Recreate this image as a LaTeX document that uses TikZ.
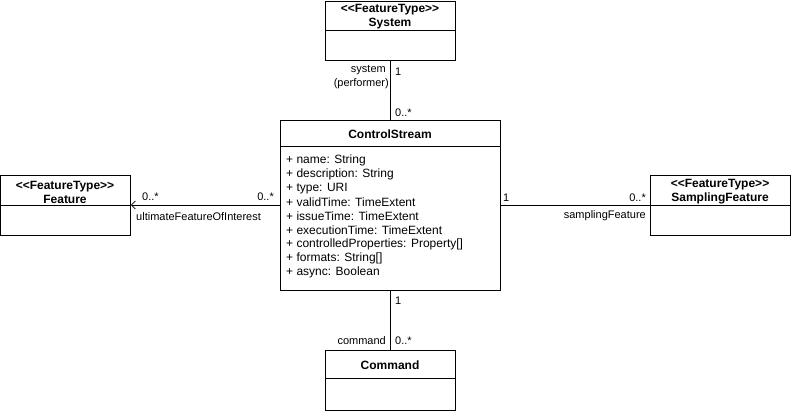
\documentclass[tikz,border=0pt]{standalone}
\usepackage{fontspec}
\setmainfont{Liberation Sans}[Ligatures=TeXOff]
\usetikzlibrary{arrows.meta}
\begin{document}
\begin{tikzpicture}[x=1pt,y=-1pt,
  box/.style={draw,line width=0.8pt,fill=white,inner sep=0pt,anchor=north west},
  hdr/.style={font=\fontsize{12}{14}\selectfont\bfseries,align=center,inner sep=0pt,yshift=-1.5pt},
  attr/.style={font=\fontsize{12}{14}\selectfont,anchor=west,inner sep=0pt,yshift=-1.5pt},
  lbl/.style={font=\fontsize{11}{14}\selectfont,inner sep=0pt,yshift=-1pt},
  conn/.style={line width=0.8pt}]
\useasboundingbox (0,0) rectangle (791,411);
% System
\node[box,minimum width=130pt,minimum height=59pt] (sys) at (325,1) {};
\draw[line width=0.8pt] (325,30) -- (455,30);
\node[hdr] (syst) at (390,15.5) {{<}{<}FeatureType{>}{>}\\System};
% ControlStream
\node[box,minimum width=220pt,minimum height=170pt] (cs) at (280,120) {};
\draw[line width=0.8pt] (280,146) -- (500,146);
\node[hdr] (cst) at (390,133) {ControlStream};
\node[attr] (a1) at (286,159) {+ name: String};
\node[attr] (a2) at (286,173) {+ description: String};
\node[attr] (a3) at (286,187) {+ type: URI};
\node[attr] (a4) at (286,201) {+ validTime: TimeExtent};
\node[attr] (a5) at (286,215) {+ issueTime: TimeExtent};
\node[attr] (a6) at (286,229) {+ executionTime: TimeExtent};
\node[attr] (a7) at (286,243) {+ controlledProperties: Property[]};
\node[attr] (a8) at (286,257) {+ formats: String[]};
\node[attr] (a9) at (286,271) {+ async: Boolean};
% Feature
\node[box,minimum width=130pt,minimum height=60pt] (feat) at (0,175) {};
\draw[line width=0.8pt] (0,205) -- (130,205);
\node[hdr] (featt) at (65,190.5) {{<}{<}FeatureType{>}{>}\\Feature};
% SamplingFeature
\node[box,minimum width=140pt,minimum height=60pt] (sf) at (650,175) {};
\draw[line width=0.8pt] (650,205) -- (790,205);
\node[hdr] (sft) at (720,190.5) {{<}{<}FeatureType{>}{>}\\SamplingFeature};
% Command
\node[box,minimum width=130pt,minimum height=60pt] (cmd) at (325,350) {};
\draw[line width=0.8pt] (325,378) -- (455,378);
\node[hdr] (cmdt) at (390,364) {Command};
% connectors
\draw[conn] (sys.south) -- (cs.north);
\draw[conn,-{Straight Barb[length=4pt,width=8pt,line width=0.8pt]}] (cs.west |- 0,205) -- (feat.east |- 0,205);
\draw[conn] (cs.east |- 0,205) -- (sf.west |- 0,205);
\draw[conn] (cs.south) -- (cmd.north);
% labels
\node[lbl,anchor=east] (l1) at (386,69) {system};
\node[lbl,anchor=east] (l2) at (389,83) {(performer)};
\node[lbl,anchor=west] (l3) at (395,71) {1};
\node[lbl,anchor=west] (l4) at (395,112) {0..*};
\node[lbl,anchor=west] (l5) at (142,196) {0..*};
\node[lbl,anchor=east] (l6) at (274,196) {0..*};
\node[lbl,anchor=west] (l7) at (136,216) {ultimateFeatureOfInterest};
\node[lbl,anchor=west] (l8) at (503,197) {1};
\node[lbl,anchor=east] (l9) at (646,197) {0..*};
\node[lbl,anchor=east] (l10) at (646,215) {samplingFeature};
\node[lbl,anchor=west] (l11) at (395,300) {1};
\node[lbl,anchor=west] (l12) at (395,340) {0..*};
\node[lbl,anchor=east] (l13) at (386,340) {command};
\end{tikzpicture}
\end{document}
